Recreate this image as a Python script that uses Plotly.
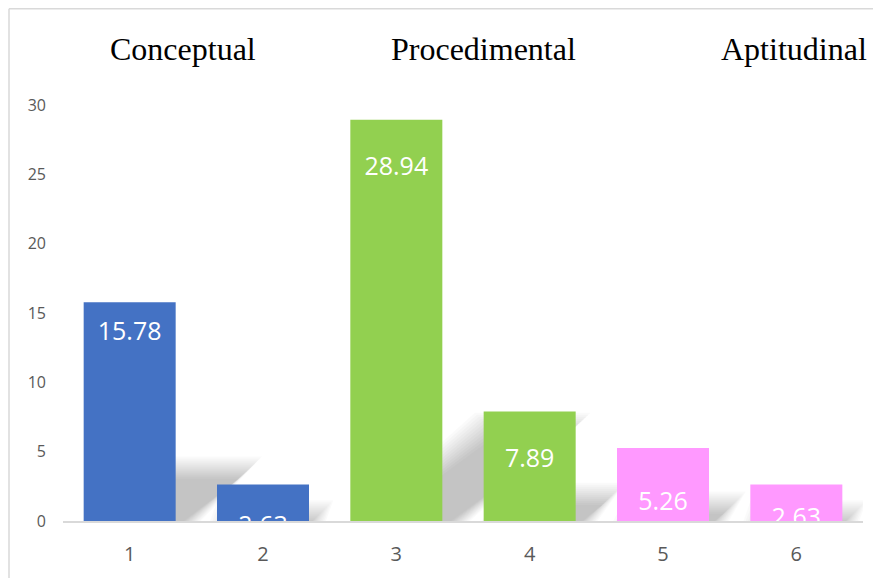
import plotly.graph_objects as go

# ---- data ----
categories = [1, 2, 3, 4, 5, 6]
values = [15.78, 2.63, 28.94, 7.89, 5.26, 2.63]
bar_colors = ["#4472C4", "#4472C4", "#92D050", "#92D050", "#FF99FF", "#FF99FF"]
group_names = ["Conceptual", "Procedimental", "Aptitudinal"]
y_ticks = [0, 5, 10, 15, 20, 25, 30]

# ---- style / layout helpers ----
group_x = [1.40, 3.65, 5.98]              # heading positions (x axis units)
label_drop_px = [32, 43, 49, 49, 56, 35]  # label centre below bar top (px)

W, H = 881, 578
ML, MR, MT, MB = 55, 26, 97, 65
plot_w = W - ML - MR
plot_h = H - MT - MB
x_range = [0.5, 6.5]
y_range = [0, 30]
ux = (x_range[1] - x_range[0]) / plot_w   # units per px
uy = (y_range[1] - y_range[0]) / plot_h
bar_width = 0.69

fig = go.Figure()

# soft perspective shadows (layered to imitate blur)
shapes = []
half_px = bar_width / ux / 2
for xc, v in zip(categories, values):
    h_px = v / uy
    rise = 0.24 * h_px
    shift = 0.34 * h_px
    for e in range(-10, 13, 2):
        pts = [(-half_px - e, -14), (half_px + e, -14),
               (half_px + shift + e, rise + e), (-half_px + shift - e, rise + e)]
        path = "M " + " L ".join(f"{xc + px*ux:.4f},{py*uy:.4f}" for px, py in pts) + " Z"
        shapes.append(dict(type="path", path=path, xref="x", yref="y",
                           fillcolor="rgba(0,0,0,0.02)", line=dict(width=0),
                           layer="below"))

fig.add_trace(go.Bar(
    x=categories, y=values, width=bar_width,
    marker=dict(color=bar_colors, line=dict(width=0)),
    hoverinfo="x+y", showlegend=False,
))

label_y = [v - d * uy for v, d in zip(values, label_drop_px)]
fig.add_trace(go.Scatter(
    x=categories, y=label_y, mode="text",
    text=[f"{v:.2f}" for v in values],
    textposition="middle center",
    textfont=dict(family="Open Sans", size=25, color="white"),
    cliponaxis=True, showlegend=False, hoverinfo="skip",
))

px_to_paper_x = lambda p: (p - ML) / plot_w
px_to_paper_y = lambda p: (H - MB - p) / plot_h

annotations = []
for name, gx in zip(group_names, group_x):
    annotations.append(dict(
        text=name, x=gx, xref="x", y=px_to_paper_y(41), yref="paper",
        showarrow=False, xanchor="center", yanchor="middle",
        font=dict(family="Liberation Serif", size=32, color="black"),
    ))

# outer frame lines (top and left)
shapes.append(dict(type="line", xref="paper", yref="paper",
                   x0=px_to_paper_x(1), x1=px_to_paper_x(W + 2),
                   y0=px_to_paper_y(0.75), y1=px_to_paper_y(0.75),
                   line=dict(color="#D9D9D9", width=1.5)))
shapes.append(dict(type="line", xref="paper", yref="paper",
                   x0=px_to_paper_x(1), x1=px_to_paper_x(1),
                   y0=px_to_paper_y(0.75), y1=px_to_paper_y(H + 2),
                   line=dict(color="#D9D9D9", width=1.5)))

fig.update_layout(
    width=W, height=H,
    margin=dict(l=ML, r=MR, t=MT, b=MB, pad=0),
    paper_bgcolor="white", plot_bgcolor="white",
    shapes=shapes, annotations=annotations,
    font=dict(family="Open Sans", color="#595959"),
)
fig.update_xaxes(
    range=x_range, tickvals=categories, ticktext=[str(c) for c in categories],
    showgrid=False, zeroline=False, showline=True, linecolor="#D9D9D9", linewidth=1.5,
    ticks="", tickfont=dict(family="Open Sans", size=20, color="#595959"),
    ticklabelstandoff=14,
)
fig.update_yaxes(
    range=y_range, tickvals=y_ticks, showgrid=False, zeroline=False, showline=False,
    ticks="", tickfont=dict(family="Open Sans", size=16, color="#595959"),
    ticklabelstandoff=16,
)

fig.write_html("out.html")
